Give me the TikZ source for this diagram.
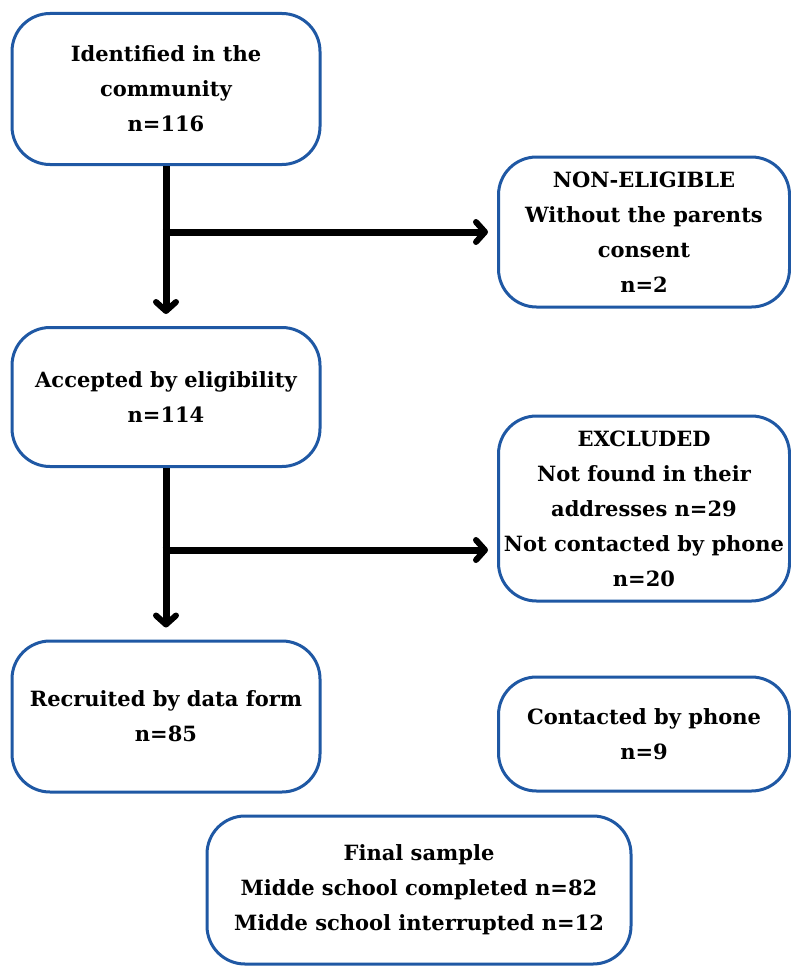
\documentclass[tikz,border=0pt]{standalone}
\usepackage{fontspec}
\setmainfont{DejaVu Serif}
\usepackage{tikz}
\usetikzlibrary{calc,arrows.meta}
\definecolor{boxblue}{RGB}{31,88,164}

\begin{document}
\begin{tikzpicture}[x=1pt,y=-1pt,
		box/.style = {draw=boxblue, line width=3pt, rounded corners=38pt, align=center, inner sep=0pt,
			font=\fontsize{21}{35}\selectfont\bfseries},
		flow/.style = {line width=7pt, -{Straight Barb[round,length=9pt,width=20pt,line width=6pt]}}]
		\useasboundingbox[fill=white] (0,0) rectangle (791,966);
		
		% left column
		\node[box, minimum width=308, minimum height=151] (ident) at (166,89) {Identified in the\\community\\n=116};
		\node[box, minimum width=308, minimum height=139] (accept) at (166,397) {Accepted by eligibility\\n=114};
		\node[box, minimum width=308, minimum height=151] (recruit) at (166,716.5) {Recruited by data form\\n=85};
		
		% right column
		\node[box, minimum width=291, minimum height=150] (nonelig) at (644,232) {NON-ELIGIBLE\\Without the parents\\consent\\n=2};
		\node[box, minimum width=291, minimum height=185] (exclud) at (644,508.5) {EXCLUDED\\Not found in their\\addresses n=29\\Not contacted by phone\\n=20};
		\node[box, minimum width=291, minimum height=114] (phone) at (644,734) {Contacted by phone\\n=9};
		
		\node[box, minimum width=424, minimum height=148] (final) at (419,890) {Final sample\\Midde school completed n=82\\Midde school interrupted n=12};
		
		% arrows
		\coordinate (split1) at (ident.south |- nonelig.west);
		\coordinate (split2) at ($(accept.south)+(0,82)$);
		\draw[flow, shorten >=12pt] (ident.south) -- (accept.north);
		\draw[flow, shorten >=9pt] ([xshift=-3.5pt]split1) -- (nonelig.west);
		\draw[flow, shorten >=12pt] (accept.south) -- (recruit.north);
		\draw[flow, shorten >=9pt] ([xshift=-3.5pt]split2) -- (split2 -| exclud.west);
\end{tikzpicture}
\end{document}
